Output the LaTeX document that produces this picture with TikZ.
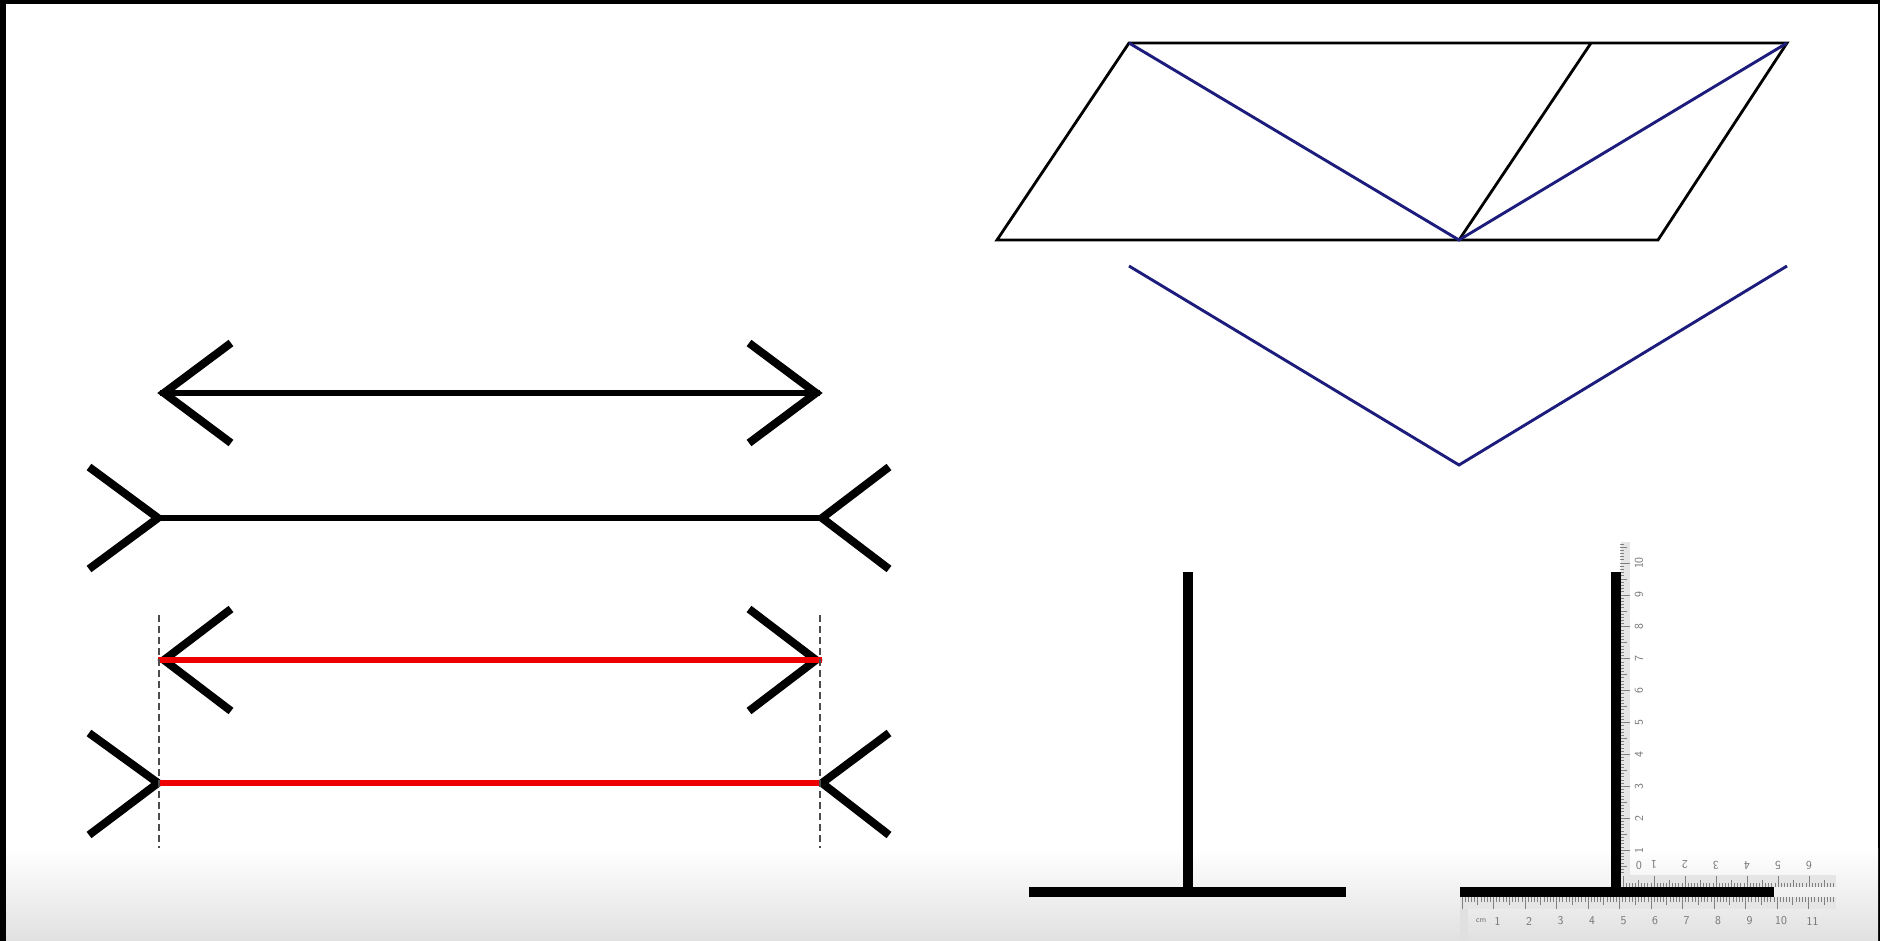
\documentclass[tikz,border=0pt]{standalone}
\usetikzlibrary{calc}
\definecolor{navyblue}{RGB}{28,28,125}
\definecolor{rred}{RGB}{238,0,0}
\begin{document}
\begin{tikzpicture}[x=1pt,y=-1pt,
  shaftline/.style={line width=6pt, line cap=butt},
  wingline/.style={line width=8pt, line join=miter, miter limit=10, line cap=butt},
  redshaft/.style={line width=6.5pt, draw=rred, line cap=butt},
  guide/.style={line width=1.2pt, draw=black!70, dash pattern=on 7pt off 4pt},
  paraline/.style={line width=2.8pt, line join=miter},
  navyline/.style={line width=2.9pt, draw=navyblue, line join=miter},
  barline/.style={line width=9.5pt, line cap=butt},
  tickline/.style={draw=black!50, line width=0.7pt},
  rulerstrip/.style={fill=black!10},
  rnum/.style={font=\sffamily\fontsize{12}{12}\selectfont, text=black!55, inner sep=0pt}
]
\useasboundingbox (0,0) rectangle (1880,941);
% frame and background
\fill[black] (0,0) rectangle (1880,941);
\fill[white] (6,4) rectangle (1878,941);
\shade[top color=white,bottom color=black!12] (6,848) rectangle (1878,941);

% ---------- Mueller-Lyer figure ----------
% row 1 : arrows
\coordinate (r1L) at (164,393); \coordinate (r1R) at (816,393);
\draw[shaftline] (160,393) -- (820,393);
\draw[wingline] (231,343) -- (r1L) -- (231,443);
\draw[wingline] (749,343) -- (r1R) -- (749,443);
% row 2 : fins
\coordinate (r2L) at (158,518); \coordinate (r2R) at (822,518);
\draw[shaftline] (r2L) -- (r2R);
\draw[wingline] (89,467) -- (r2L) -- (89,569);
\draw[wingline] (889,467) -- (r2R) -- (889,569);
% row 3 : arrows with red shaft
\coordinate (r3L) at (164,660); \coordinate (r3R) at (816,660);
\draw[wingline] (231,609) -- (r3L) -- (231,711);
\draw[wingline] (749,609) -- (r3R) -- (749,711);
\draw[redshaft] (158,660) -- (822,660);
% row 4 : fins with red shaft
\coordinate (r4L) at (158,783); \coordinate (r4R) at (822,783);
\draw[wingline] (89,733) -- (r4L) -- (89,835);
\draw[wingline] (889,733) -- (r4R) -- (889,835);
\draw[redshaft] (159,783) -- (821,783);
% guides
\coordinate (g1t) at (159,615); \coordinate (g1b) at (159,848);
\coordinate (g2t) at (820,615); \coordinate (g2b) at (820,848);
\draw[guide] (g1t) -- (g1b);
\draw[guide] (g2t) -- (g2b);

% ---------- Parallelogram (Sander) ----------
\coordinate (P1) at (997,240);
\coordinate (P2) at (1129,43);
\coordinate (P3) at (1787,43);
\coordinate (P4) at (1658,240);
\coordinate (M) at (1459,240);
\coordinate (N) at (1591,43);
\draw[paraline] (P1) -- (P2) -- (P3) -- (P4) -- cycle;
\draw[paraline] (M) -- (N);
\draw[navyline] (P2) -- (M) -- (P3);
\coordinate (V1) at (1129,266);
\coordinate (V2) at (1459,465);
\coordinate (V3) at (1787,266);
\draw[navyline] (V1) -- (V2) -- (V3);

% ---------- Inverted T (left) ----------
\draw[barline] (1188,572) -- (1188,892);
\draw[barline] (1029,892) -- (1346,892);

% ---------- Inverted T with rulers (right) ----------
% vertical ruler
\fill[rulerstrip] (1621,542) rectangle (1630,882);
\foreach \k in {0,...,106} {
  \pgfmathsetmacro\len{ifthenelse(mod(\k,10)==0,10,ifthenelse(mod(\k,5)==0,7,4))}
  \draw[tickline] (1620,{882-3.19*\k}) -- ++(\len,0);
}
\foreach \k in {1,...,10} {
  \node[rnum, rotate=90] at (1639,{882-31.9*\k}) {\k};
}
% top horizontal ruler (upside down)
\fill[rulerstrip] (1621,875) rectangle (1836,887);
\foreach \k in {0,...,68} {
  \pgfmathsetmacro\len{ifthenelse(mod(\k,10)==0,11,ifthenelse(mod(\k,5)==0,7,4))}
  \draw[tickline] ({1623+3.1*\k},887) -- ++(0,-\len);
}
\node[rnum, rotate=180] at (1639,865) {0};
\foreach \k in {1,...,6} {
  \node[rnum, rotate=180] at ({1623+31*\k},865) {\k};
}
% bottom horizontal ruler
\fill[rulerstrip] (1460,897) rectangle (1836,909);
\fill[black!12] (1460,909) rectangle (1468,941);
\foreach \k in {0,...,118} {
  \pgfmathsetmacro\len{ifthenelse(mod(\k,10)==0,12,ifthenelse(mod(\k,5)==0,8,5))}
  \draw[tickline] ({1462+3.15*\k},897) -- ++(0,\len);
}
\node[rnum, font=\sffamily\fontsize{8}{8}\selectfont] at (1481,921) {cm};
\foreach \k in {1,...,11} {
  \node[rnum] at ({1466+31.5*\k},921) {\k};
}
% bars
\draw[barline] (1616,572) -- (1616,890);
\draw[barline] (1460,892) -- (1774,892);
\end{tikzpicture}
\end{document}
